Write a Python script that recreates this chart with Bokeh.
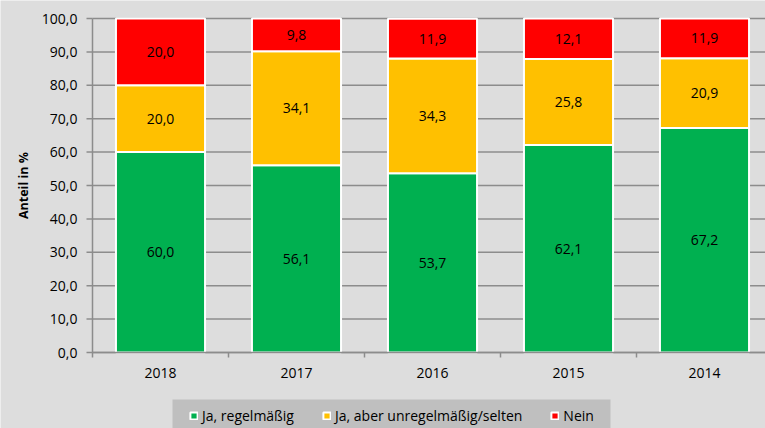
import numpy as np
from bokeh.plotting import figure
from bokeh.models import Range1d, ColumnDataSource, Legend, LegendItem, BoxAnnotation
from bokeh.core.properties import value
from bokeh.embed import file_html
from bokeh.resources import INLINE

years = ["2018", "2017", "2016", "2015", "2014"]
regelmaessig = [60.0, 56.1, 53.7, 62.1, 67.2]
unregelmaessig = [20.0, 34.1, 34.3, 25.8, 20.9]
nein = [20.0, 9.8, 11.9, 12.1, 11.9]
series_names = ["Ja, regelmäßig", "Ja, aber unregelmäßig/selten", "Nein"]
colors = ["#00B050", "#FFC000", "#FF0000"]
y_ticks = [0, 10, 20, 30, 40, 50, 60, 70, 80, 90, 100]
y_title = "Anteil in %"

FONT = "Open Sans"
FS = "14px"
BG = "#DDDDDD"
GRID = "#8C8C8C"

# layout constants (pixels)
W, H = 765, 428
AXIS_X = 92            # pixel column of category boundary -0.5
AXIS_Y = 352           # pixel row of value 0
TOP_Y = 18             # pixel row of value 100
CAT_W = 136            # pixels per category
PX_PER_UNIT = (AXIS_Y - TOP_Y) / 100.0


def px_to_y(py):
    return (AXIS_Y - py) / PX_PER_UNIT


def px_to_x(px):
    return -0.5 + (px - AXIS_X) / CAT_W


x_hi = px_to_x(W)
x = list(range(len(years)))
src = ColumnDataSource(dict(x=x, a=regelmaessig, b=unregelmaessig, c=nein))

p = figure(width=W, height=H, output_backend="svg", toolbar_location=None,
           x_range=Range1d(px_to_x(0), x_hi), y_range=Range1d(px_to_y(H), px_to_y(0)),
           min_border_left=0, min_border_right=0, min_border_top=0, min_border_bottom=0,
           x_axis_location=None, y_axis_location=None)
p.background_fill_color = BG
p.border_fill_color = BG
p.outline_line_color = None
p.grid.grid_line_color = None

n = len(y_ticks)
# horizontal gridlines
p.segment(x0=[-0.5] * n, y0=y_ticks, x1=[x_hi] * n, y1=y_ticks,
          line_color=GRID, line_width=1.5)

# stacked bars
renderers = p.vbar_stack(["a", "b", "c"], x="x", width=0.655, source=src,
                         fill_color=colors, line_color="white", line_width=2)

# segment labels
vals = [regelmaessig, unregelmaessig, nein]
bottoms = np.zeros(len(years))
for v in vals:
    arr = np.array(v)
    mids = bottoms + arr / 2
    p.text(x=x, y=list(mids), text=[f"{t:.1f}".replace(".", ",") for t in v],
           text_align="center", text_baseline="middle", text_color="black",
           text_font=value(FONT), text_font_size=FS)
    bottoms = bottoms + arr

# y axis: line, ticks, labels, title
p.segment(x0=[-0.5], y0=[0], x1=[-0.5], y1=[100], line_color=GRID, line_width=1.5)
p.segment(x0=[px_to_x(AXIS_X - 6)] * n, y0=y_ticks, x1=[-0.5] * n, y1=y_ticks,
          line_color=GRID, line_width=1.5)
p.text(x=[px_to_x(77)] * n, y=y_ticks, text=[f"{t:.1f}".replace(".", ",") for t in y_ticks],
       text_align="right", text_baseline="middle", text_color="black",
       text_font=value(FONT), text_font_size=FS)
p.text(x=[px_to_x(23)], y=[50], text=[y_title], angle=np.pi / 2,
       text_align="center", text_baseline="middle", text_color="black",
       text_font=value(FONT), text_font_size="12.5px", text_font_style="bold")

# x axis: line, boundary ticks, labels
p.segment(x0=[-0.5], y0=[0], x1=[x_hi], y1=[0], line_color=GRID, line_width=1.5)
boundaries = [i - 0.5 for i in range(len(years) + 1)]
p.segment(x0=boundaries, y0=[0] * len(boundaries), x1=boundaries,
          y1=[px_to_y(AXIS_Y + 5)] * len(boundaries), line_color=GRID, line_width=1.5)
p.text(x=x, y=[px_to_y(372)] * len(years), text=years, text_align="center",
       text_baseline="middle", text_color="black", text_font=value(FONT), text_font_size=FS)

# legend box
p.add_layout(BoxAnnotation(left=px_to_x(172), right=px_to_x(610), top=px_to_y(399),
                           fill_color="#BFBFBF", fill_alpha=1, line_color=None,
                           level="underlay"))

legend = Legend(items=[LegendItem(label=nm, renderers=[r]) for nm, r in zip(series_names, renderers)],
                orientation="horizontal", location=(189, 3))
legend.background_fill_alpha = 0
legend.border_line_color = None
legend.label_text_font = FONT
legend.label_text_font_size = FS
legend.label_text_color = "black"
legend.glyph_width = 9
legend.glyph_height = 9
legend.label_standoff = 4
legend.spacing = 28
legend.padding = 8
legend.margin = 0
legend.label_height = 16
p.add_layout(legend, "center")

open("out.html", "w").write(file_html(p, INLINE))
